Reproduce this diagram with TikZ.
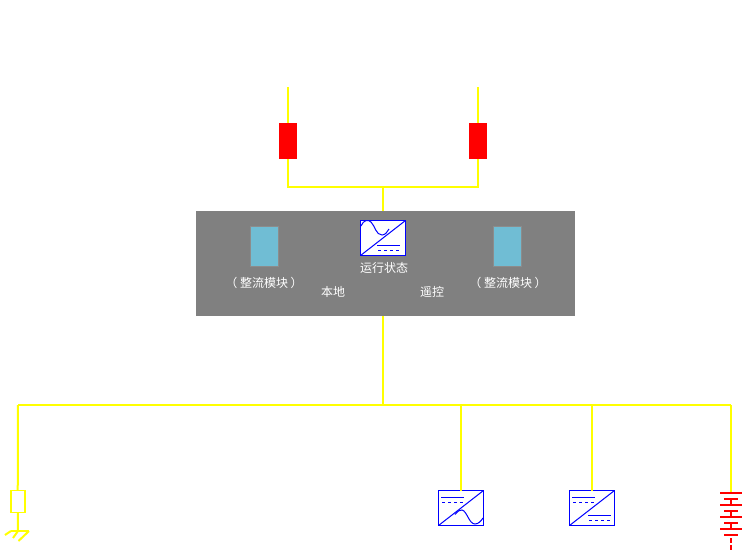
\documentclass[tikz,border=0pt]{standalone}
\usepackage{fontspec}
\newfontfamily\cjk{Noto Sans CJK SC}
\definecolor{wire}{RGB}{255,255,0}
\definecolor{panel}{RGB}{128,128,128}
\definecolor{module}{RGB}{112,189,212}
\tikzset{
	breaker/.style={fill=red, minimum width=18pt, minimum height=36pt, inner sep=0pt, outer sep=0pt},
	modbox/.style={fill=module, draw=black!45, line width=0.6pt, minimum width=28pt, minimum height=39.5pt, inner sep=0pt, outer sep=0pt},
	convbox/.style={fill=white, draw=blue, line width=1pt, minimum width=45pt, minimum height=35pt, inner sep=0pt, outer sep=0pt},
	lbl/.style={text=white, font=\cjk\fontsize{12pt}{14pt}\selectfont, inner sep=0pt},
	wireline/.style={draw=wire, line width=2pt},
	conv/.style={draw=blue, line width=1pt},
	convdash/.style={draw=blue, line width=1pt, dash pattern=on 3pt off 3pt},
	cell/.style={draw=red, line width=2pt}
}
\begin{document}
\begin{tikzpicture}[x=1pt, y=-1pt]
	\useasboundingbox (0,0) rectangle (745,550);
	% control panel
	\node[fill=panel, minimum width=379pt, minimum height=105pt, inner sep=0pt, outer sep=0pt] (panel) at (385.5,263.5) {};
	\node[modbox] (modL) at (264.5,246.3) {};
	\node[modbox] (modR) at (507.5,246.3) {};
	\node[lbl] (txtL) at (264,283.3) {（ 整流模块 ）};
	\node[lbl] (txtR) at (508,283.3) {（ 整流模块 ）};
	\node[lbl] (txtS) at (384,268) {运行状态};
	\node[lbl] (txtLoc) at (333,292) {本地};
	\node[lbl] (txtRem) at (432,292) {遥控};
	% incoming feeders
	\coordinate (feedL) at (288,87);
	\coordinate (feedR) at (478,87);
	\node[breaker] (brkL) at (288,141) {};
	\node[breaker] (brkR) at (478,141) {};
	\coordinate (joinL) at (288,187);
	\coordinate (joinR) at (478,187);
	\coordinate (joinC) at (382.5,187);
	\coordinate (topC) at (382.5,211);
	\draw[wireline] (feedL) -- (brkL);
	\draw[wireline] (feedR) -- (brkR);
	\draw[wireline] (brkL) -- (joinL) -- (joinR) -- (brkR);
	\draw[wireline] (joinC) -- (topC);
	% dc bus
	\coordinate (botC) at (382.5,316);
	\coordinate (busC) at (382.5,405);
	\coordinate (busA) at (18,405);
	\coordinate (busB) at (461,405);
	\coordinate (busD) at (592,405);
	\coordinate (busE) at (731,405);
	\coordinate (batTop) at (731,492);
	\draw[wireline] (botC) -- (busC);
	\draw[wireline] (busA) -- (busE);
	% converters
	\node[convbox] (convS) at (383,238) {};
	\node[convbox] (convB) at (461,508) {};
	\node[convbox] (convD) at (592,508) {};
	\draw[wireline] (busB) -- (convB);
	\draw[wireline] (busD) -- (convD);
	\draw[conv] (convS.south west) -- (convS.north east);
	\draw[conv] (361,226) .. controls (363.5,220) and (368,219) .. (371,222) .. controls (375,226) and (376,235) .. (382,235) .. controls (385,235) and (387.5,232) .. (389,229);
	\draw[conv] (377,245.5) -- (400,245.5);
	\draw[convdash] (378,250.5) -- (400,250.5);
	\draw[conv] (convB.south west) -- (convB.north east);
	\draw[conv] (441,497) -- (464,497);
	\draw[convdash] (442,502.5) -- (464,502.5);
	\draw[conv] (455,514.5) .. controls (458,511) and (460,509.5) .. (462,510) .. controls (467,511) and (469,524) .. (475,524) .. controls (478.5,524) and (481,521) .. (483,518);
	\draw[conv] (convD.south west) -- (convD.north east);
	\draw[conv] (572,497) -- (595,497);
	\draw[convdash] (573,502.5) -- (595,502.5);
	\draw[conv] (588,515) -- (611,515);
	\draw[convdash] (589,520.5) -- (611,520.5);
	% resistor and earth
	\node[draw=wire, line width=1.6pt, minimum width=14pt, minimum height=22pt, inner sep=0pt, outer sep=0pt] (res) at (17.7,501.5) {};
	\coordinate (earth) at (18,531);
	\draw[wireline] (busA) -- (res);
	\draw[wireline] (res) -- (earth);
	\draw[wireline] (11,531) -- (29,531);
	\draw[wireline] (11,531) -- (5,535);
	\draw[wireline] (18,531) -- (13,538);
	\draw[wireline] (29,531) -- (18.5,541);
	% battery
	\draw[wireline] (busE) -- (batTop);
	\foreach \y in {492.7,504.7,516.7,528.7} {
		\draw[cell] (720,\y) -- (742,\y);
		\draw[cell] (724,\y+6.3) -- (738,\y+6.3);
	}
	\foreach \y in {499,511,523} {
		\draw[cell] (731,\y) -- (731,\y+6);
	}
	\draw[cell] (731,538) -- (731,543);
	\draw[cell] (731,545) -- (731,550);
\end{tikzpicture}
\end{document}
